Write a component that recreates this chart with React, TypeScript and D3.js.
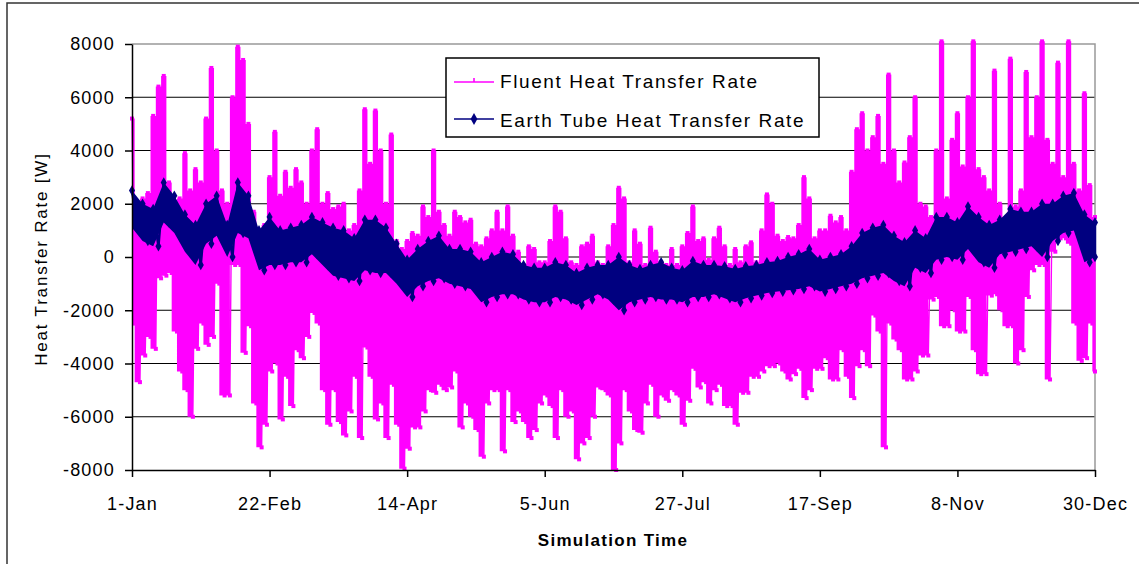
import { useEffect, useRef } from 'react';
import * as d3 from 'd3';

// x axis: day of year, labelled every 52 days
const xTickDays = [0, 52, 104, 156, 208, 260, 312, 364];
const xTickLabels = ['1-Jan', '22-Feb', '14-Apr', '5-Jun', '27-Jul', '17-Sep', '8-Nov', '30-Dec'];
const yTicks = [-8000, -6000, -4000, -2000, 0, 2000, 4000, 6000, 8000];
const seriesNames = ['Fluent Heat Transfer Rate', 'Earth Tube Heat Transfer Rate'];

const fluentHigh = [
  5200, 2000, 2200, 2400, 5300, 6400, 6800, 2800, 2000, 2200,
  3900, 2500, 3300, 2800, 5200, 7100, 4000, 2500, 2000, 6000,
  7900, 7400, 5000, 1700, 900, 1200, 3000, 4700, 2300, 3200,
  2600, 3300, 2800, 2000, 4000, 4800, 2000, 2400,
  1800, 1900, 2000, 1000, 1200, 2500, 5550, 3500, 5500, 4000,
  2000, 4600, 600, 300, 600, 900, 800, 1900, 1500, 4000,
  1700, 1200, 800, 1700, 1500, 1300, 1400, 500, 400, 700,
  1000, 1700, 1000, 1900, 800, 200,
  -300, 400, 300, -200, -200, 600, 1900, 1700, 700, -200,
  -300, 400, 500, 800, -200, -300, 400, 1200, 2600, 2200,
  -200, 1000, 500, -300, 1100, 200, -200, -300, 300, -300,
  400, 900, 1900, 600, 700, -100, 700,
  1100, 400, -300, 300, -200, 400, 550, -200, 1000, 2350,
  2000, 800, 600, 750, 700, 1200, 3000, 2200, 700, 1000,
  1000, 1550, 1300, 1500, 1000, 3200, 4800, 5400, 4000, 4500,
  5300, 3500, 6850, 4000, 2800,
  3550, 4500, 6000, 2000, 1900, 1500, 4000, 8100, 2200, 4400,
  5400, 3400, 6000, 8100, 3300, 3000, 2500, 7000, 2000, 900,
  7450, 1900, 2500, 6950, 4500, 6000, 8100, 4400, 3500, 7300,
  3000, 8100, 3500, 2500, 6150, 2700, 1500,
];
const fluentLow = [
  -2500, -4700, -3700, -3000, -3450, -800, -700, -600, -2800, -4300,
  -5000, -6000, -3450, -2500, -3300, -3000, -1000, -5200, -5200, -300,
  -300, -3600, -2600, -5500, -7150, -6300, -4300, -4000, -6100, -4500,
  -5600, -3500, -3800, -3000, -2100, -2500, -5000, -6300,
  -5000, -6200, -6700, -5800, -4500, -6800, -3400, -4500, -6100, -5500,
  -6800, -4800, -6300, -7950, -7200, -6400, -6400, -5800, -5000, -5100,
  -4800, -5000, -4900, -4300, -6400, -5500, -6000, -6500, -7500, -5500,
  -5000, -5000, -7300, -5000, -6200, -5800,
  -6200, -6800, -6500, -5500, -5200, -5600, -6800, -5000, -6000, -5800,
  -7600, -7000, -6800, -6000, -4900, -5000, -5200, -8000, -7000, -5000,
  -5800, -6500, -6600, -5500, -4800, -6000, -5200, -5400, -5000, -5200,
  -6300, -5400, -4200, -4900, -4700, -5500, -5000,
  -4800, -5600, -5600, -6300, -5100, -5100, -4500, -4500, -4300, -4100,
  -4100, -4000, -4300, -4600, -4400, -4200, -5300, -5000, -4200, -4200,
  -3800, -4600, -4600, -3500, -4500, -5300, -4100, -3500, -4100, -2200,
  -2800, -7150, -2500, -3100, -3500,
  -4600, -4600, -4300, -3700, -3700, -1600, -1500, -2600, -2600, -2000,
  -2800, -2800, -1500, -3500, -4400, -4400, -1450, -1400, -2000, -2600,
  -2600, -4000, -3500, -1500, -500, -300, -300, -4600, 200, 700,
  700, 500, -2500, -3900, -3800, -2500, -4300,
];

const tubeHigh = [
  2500, 2000, 1800, 2800, 2300, 1600, 1200, 2000, 2300, 1200,
  2800, 2300, 1000, 1500, 1000, 1100, 1200, 1500, 1300,
  1100, 1000, 700, 1400, 1400, 1100, 500, -100, 300, 600,
  800, 300, 300, 200, -200, 0, 200, 100, -300,
  -400, -400, -200, -300, -600, -400, -300, -300, 0, -300,
  -450, -300, -200, -400, -500, -150, -300, -300,
  -350, -450, -350, -300, -200, -150, 0, 100, 300, -100,
  0, 100, 400, 900, 1100, 1200, 800, 550,
  1000, 700, 1500, 1500, 1300, 1900, 1500, 1200, 1400, 1800,
  1700, 1700, 2000, 2000, 2300, 2400, 1600, 1300,
];
const tubeLow = [
  1100, 600, 400, 1300, 900, 200, -300, 500, 800, 0,
  900, 700, -500, -300, -300, -200, -200, 100, -300,
  -700, -800, -900, -500, -600, -600, -1000, -1500, -1100, -900,
  -800, -1000, -1100, -1200, -1700, -1500, -1400, -1400, -1600,
  -1700, -1700, -1500, -1600, -1800, -1600, -1400, -1600, -2000, -1700,
  -1600, -1500, -1600, -1600, -1700, -1500, -1500, -1400,
  -1550, -1700, -1550, -1450, -1350, -1300, -1250, -1200, -1100, -1300,
  -1200, -1100, -1000, -800, -700, -600, -900, -1100,
  -400, -600, -100, 0, -100, 300, -200, -400, 100, 200,
  300, 400, 0, 600, 900, 1000, -200, 0,
];

const FONT = 'Liberation Sans, Arial, sans-serif';
const PINK = '#ff00ff';
const NAVY = '#000080';

const Chart = () => {
  const ref = useRef<SVGSVGElement>(null);

  useEffect(() => {
    const svg = d3.select(ref.current);
    svg.selectAll('*').remove();

    const x = d3.scaleLinear().domain([0, 364]).range([132, 1095]);
    const y = d3.scaleLinear().domain([-8000, 8000]).range([470, 44]);

    // outer frame (top + left only)
    svg.append('path')
      .attr('d', 'M7,564 V3 H1139')
      .attr('fill', 'none')
      .attr('stroke', '#333')
      .attr('stroke-width', 1.5);

    // gridlines
    svg.append('g')
      .selectAll('line')
      .data(yTicks.filter((v) => v > -8000 && v < 8000))
      .join('line')
      .attr('x1', x(0))
      .attr('x2', x(364))
      .attr('y1', (d) => y(d))
      .attr('y2', (d) => y(d))
      .attr('stroke', '#000')
      .attr('stroke-width', 1.2);

    svg.append('path')
      .attr('d', `M${x(0)},${y(8000)} H${x(364)} V${y(-8000)}`)
      .attr('fill', 'none')
      .attr('stroke', '#999')
      .attr('stroke-width', 1.5);

    const line = d3.line<[number, number]>()
      .x((d) => x(d[0]))
      .y((d) => y(d[1]));

    // fluent series: stepped envelope, zigzag between highs and lows, square markers
    const fluentArea = d3.area<number>()
      .curve(d3.curveStep)
      .x((_, i) => x(i * 2))
      .y0((_, i) => y(fluentLow[i]))
      .y1((d) => y(d));

    svg.append('path')
      .datum(fluentHigh)
      .attr('d', fluentArea)
      .attr('fill', PINK);

    const fluentPts: [number, number][] = fluentHigh.flatMap((h, i) => [
      [i * 2, h],
      [Math.min(i * 2 + 1, 364), fluentLow[i]],
    ] as [number, number][]);

    svg.append('path')
      .datum(fluentPts)
      .attr('d', line)
      .attr('fill', 'none')
      .attr('stroke', PINK)
      .attr('stroke-width', 1.4);

    svg.append('g')
      .selectAll('rect')
      .data(fluentPts)
      .join('rect')
      .attr('x', (d) => x(d[0]) - 2)
      .attr('y', (d) => y(d[1]) - 2)
      .attr('width', 4)
      .attr('height', 4)
      .attr('fill', PINK);

    // earth tube series: solid band plus diamond markers
    const tubeArea = d3.area<number>()
      .x((_, i) => x(i * 4))
      .y0((_, i) => y(tubeLow[i]))
      .y1((d) => y(d));

    svg.append('path')
      .datum(tubeHigh)
      .attr('d', tubeArea)
      .attr('fill', NAVY);

    const tubePts: [number, number][] = tubeHigh.flatMap((h, i) => [
      [i * 4, h],
      [Math.min(i * 4 + 2, 364), tubeLow[i]],
    ] as [number, number][]);

    svg.append('path')
      .datum(tubePts)
      .attr('d', line)
      .attr('fill', 'none')
      .attr('stroke', NAVY)
      .attr('stroke-width', 2.5);

    const diamond = d3.symbol().type(d3.symbolDiamond).size(32);
    svg.append('g')
      .selectAll('path')
      .data(tubePts)
      .join('path')
      .attr('transform', (d) => `translate(${x(d[0])},${y(d[1])})`)
      .attr('d', diamond)
      .attr('fill', NAVY);

    // axes
    const gy = svg.append('g')
      .attr('transform', `translate(${x(0)},0)`)
      .call(
        d3.axisLeft(y)
          .tickValues(yTicks)
          .tickFormat((d) => String(d))
          .tickSizeInner(7)
          .tickSizeOuter(0)
          .tickPadding(10)
      );
    gy.select('.domain').attr('stroke', '#000').attr('stroke-width', 1.5);
    gy.selectAll('.tick line').attr('stroke', '#000').attr('stroke-width', 1.5);
    gy.selectAll('text')
      .attr('font-family', FONT)
      .attr('font-size', 18)
      .attr('letter-spacing', 1.2)
      .attr('fill', '#000');

    const gx = svg.append('g')
      .attr('transform', `translate(0,${y(-8000)})`)
      .call(
        d3.axisBottom(x)
          .tickValues(xTickDays)
          .tickFormat((_, i) => xTickLabels[i])
          .tickSizeInner(7)
          .tickSizeOuter(0)
          .tickPadding(20)
      );
    gx.select('.domain').attr('stroke', '#000').attr('stroke-width', 1.5);
    gx.selectAll('.tick line').attr('stroke', '#000').attr('stroke-width', 1.5);
    gx.selectAll('text')
      .attr('font-family', FONT)
      .attr('font-size', 18)
      .attr('letter-spacing', 1.2)
      .attr('fill', '#000');

    // axis titles
    svg.append('text')
      .attr('transform', 'translate(47,259) rotate(-90)')
      .attr('text-anchor', 'middle')
      .attr('font-family', FONT)
      .attr('font-size', 17)
      .attr('letter-spacing', 1.8)
      .attr('fill', '#000')
      .text('Heat Transfer Rate [W]');

    svg.append('text')
      .attr('x', 613)
      .attr('y', 546)
      .attr('text-anchor', 'middle')
      .attr('font-family', FONT)
      .attr('font-size', 17)
      .attr('font-weight', 'bold')
      .attr('letter-spacing', 1.3)
      .attr('fill', '#000')
      .text('Simulation Time');

    // legend
    const lg = svg.append('g');
    lg.append('rect')
      .attr('x', 446)
      .attr('y', 58)
      .attr('width', 373)
      .attr('height', 79)
      .attr('fill', '#fff')
      .attr('stroke', '#000')
      .attr('stroke-width', 1.5);

    const rows = [
      { name: seriesNames[0], color: PINK, cy: 82, base: 88 },
      { name: seriesNames[1], color: NAVY, cy: 119, base: 127 },
    ];
    rows.forEach((r, i) => {
      lg.append('line')
        .attr('x1', 454)
        .attr('x2', 494)
        .attr('y1', r.cy)
        .attr('y2', r.cy)
        .attr('stroke', r.color)
        .attr('stroke-width', 1.6);
      if (i === 0) {
        lg.append('line')
          .attr('x1', 474)
          .attr('x2', 474)
          .attr('y1', r.cy - 4)
          .attr('y2', r.cy)
          .attr('stroke', r.color)
          .attr('stroke-width', 1.6);
      } else {
        lg.append('path')
          .attr('transform', `translate(474,${r.cy})`)
          .attr('d', d3.symbol().type(d3.symbolDiamond).size(40))
          .attr('fill', r.color);
      }
      lg.append('text')
        .attr('x', 500)
        .attr('y', r.base)
        .attr('font-family', FONT)
        .attr('font-size', 19)
        .attr('letter-spacing', 1.6)
        .attr('fill', '#000')
        .text(r.name);
    });
  }, []);

  return (
    <svg
      ref={ref}
      width={1139}
      height={564}
      style={{ position: 'absolute', left: 0, top: 0, background: '#fff' }}
    />
  );
};

export default function App() {
  return (
    <div>
      <Chart />
    </div>
  );
}
